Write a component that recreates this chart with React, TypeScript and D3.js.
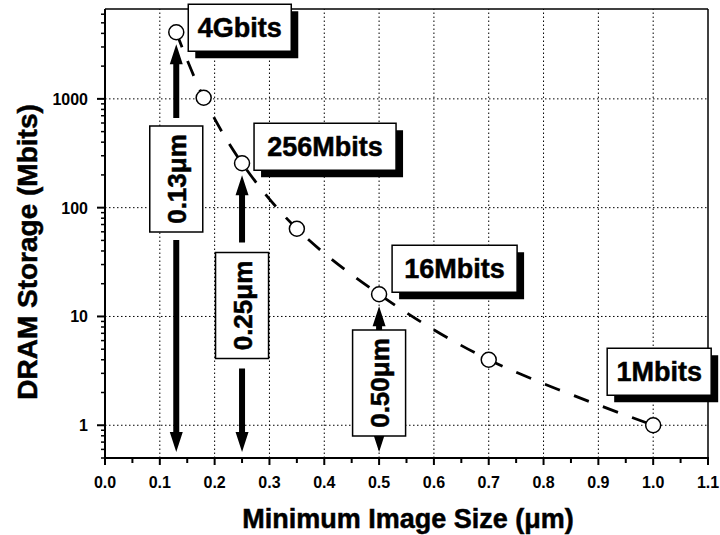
import React from "react";
import * as d3 from "d3";

// Data
const featureSize = [0.13, 0.18, 0.25, 0.35, 0.5, 0.7, 1.0]; // µm
const dramStorage = [4096, 1024, 256, 64, 16, 4, 1]; // Mbits
const xTickValues = [0, 0.1, 0.2, 0.3, 0.4, 0.5, 0.6, 0.7, 0.8, 0.9, 1.0, 1.1];
const yTickValues = [1, 10, 100, 1000];
const generationLabels = ["4Gbits", "256Mbits", "16Mbits", "1Mbits"];
const generationPoint = [0, 2, 4, 6];
const nodeLabels = ["0.13\u03bcm", "0.25\u03bcm", "0.50\u03bcm"];
const nodePoint = [0, 2, 4];

const W = 720;
const H = 535;
const FONT = "'Liberation Sans', Arial, Helvetica, sans-serif";

export default function App() {
  const x = d3.scaleLinear().domain([0, 1.1]).range([105, 708]);
  const y = d3.scaleLog().domain([0.5, 6700]).range([458, 9]);
  const left = 105, right = 708, top = 9, bottom = 458;

  const pts = featureSize.map((s, i) => [x(s), y(dramStorage[i])] as [number, number]);
  const line = d3.line().curve(d3.curveCatmullRom.alpha(0.5))(pts) || "";

  // minor ticks
  const xMinor = d3.range(0.05, 1.1, 0.1);
  const yMinor: number[] = [];
  [0.1, 1, 10, 100, 1000].forEach((dec) => {
    for (let k = 2; k <= 9; k++) {
      const v = dec * k;
      if (v >= 0.5 && v <= 6700) yMinor.push(v);
    }
  });

  // layout for annotation boxes (pixel offsets relative to data point)
  const genLayout = [
    { dx: 12, dy: -28, w: 103 },
    { dx: 12, dy: -40, w: 142 },
    { dx: 13, dy: -49, w: 125 },
    { dx: -46, dy: -77, w: 104 },
  ];
  const boxH = 47;
  const shadow = 7;
  const nodeLayout = [
    { cy: 179, gap: 8 },
    { cy: 305.5, gap: 10 },
    { cy: 383, gap: 0 },
  ];
  const nodeW = 53, nodeH = 106;
  const heavy = { stroke: "#000", strokeWidth: 0.5 };

  const arrow = (xc: number, from: number, tip: number, key: string) => {
    const dir = tip < from ? -1 : 1;
    const headL = 20, headW = 13, shaftW = 6;
    const baseY = tip - dir * headL;
    const d = `M${xc - shaftW / 2},${from} L${xc - shaftW / 2},${baseY} L${xc - headW / 2},${baseY} L${xc},${tip} L${xc + headW / 2},${baseY} L${xc + shaftW / 2},${baseY} L${xc + shaftW / 2},${from} Z`;
    return <path key={key} d={d} fill="#000" />;
  };

  return (
    <svg width={W} height={H} style={{ position: "absolute", left: 0, top: 0, background: "#fff" }} fontFamily={FONT}>
      <rect x={0} y={0} width={W} height={H} fill="#fff" />
      {/* grid */}
      {xTickValues.filter((v) => v > 0.05 && v < 1.05).map((v) => (
        <line key={"gx" + v} x1={x(v)} x2={x(v)} y1={bottom} y2={top} stroke="#000" strokeWidth={1} strokeDasharray="1.5,2.5" />
      ))}
      {yTickValues.map((v) => (
        <line key={"gy" + v} x1={left} x2={right} y1={y(v)} y2={y(v)} stroke="#000" strokeWidth={1} strokeDasharray="1.5,2.5" />
      ))}

      {/* frame */}
      <line x1={left} x2={right} y1={top} y2={top} stroke="#000" strokeWidth={1.5} />
      <line x1={right} x2={right} y1={top} y2={bottom} stroke="#000" strokeWidth={1.5} />
      <line x1={left} x2={left} y1={top} y2={bottom + 1} stroke="#000" strokeWidth={2} />
      <line x1={left - 1} x2={right + 1} y1={bottom} y2={bottom} stroke="#000" strokeWidth={2} />

      {/* x ticks */}
      {xTickValues.map((v) => (
        <line key={"xt" + v} x1={x(v)} x2={x(v)} y1={bottom} y2={bottom + 7} stroke="#000" strokeWidth={2} />
      ))}
      {xMinor.map((v) => (
        <line key={"xm" + v} x1={x(v)} x2={x(v)} y1={bottom} y2={bottom + 5} stroke="#000" strokeWidth={2} />
      ))}
      {xTickValues.map((v) => (
        <text key={"xl" + v} x={x(v)} y={488} textAnchor="middle" fontSize={16} fontWeight="bold">
          {v.toFixed(1)}
        </text>
      ))}

      {/* y ticks */}
      {yTickValues.map((v) => (
        <line key={"yt" + v} x1={left - 8} x2={left} y1={y(v)} y2={y(v)} stroke="#000" strokeWidth={2} />
      ))}
      {yMinor.map((v) => (
        <line key={"ym" + v} x1={left - 4} x2={left} y1={y(v)} y2={y(v)} stroke="#000" strokeWidth={1.5} />
      ))}
      {yTickValues.map((v) => (
        <text key={"yl" + v} x={88} y={y(v) + 6} textAnchor="end" fontSize={16} fontWeight="bold">
          {String(v)}
        </text>
      ))}

      {/* axis titles */}
      <text x={408} y={528} textAnchor="middle" fontSize={27} fontWeight="bold" {...heavy}>
        Minimum Image Size (<tspan>{"\u03bc"}</tspan>m)
      </text>
      <text transform={`translate(37,252) rotate(-90)`} textAnchor="middle" fontSize={28} fontWeight="bold" {...heavy}>
        DRAM Storage (Mbits)
      </text>

      {/* dashed curve */}
      <path d={line} fill="none" stroke="#000" strokeWidth={2.8} strokeDasharray="16,15" />

      {/* node arrows and boxes */}
      {nodeLabels.map((lab, i) => {
        const [px, py] = pts[nodePoint[i]];
        const L = nodeLayout[i];
        const bt = L.cy - nodeH / 2, bb = L.cy + nodeH / 2;
        return (
          <g key={"node" + i}>
            {arrow(px, bt - L.gap, py + 12, "up" + i)}
            {arrow(px, bb + L.gap, y(0.5) - 6, "dn" + i)}
            <rect x={px - nodeW / 2} y={bt} width={nodeW} height={nodeH} fill="#fff" stroke="#000" strokeWidth={1.5} />
            <text transform={`translate(${px + 9.5},${L.cy}) rotate(-90)`} textAnchor="middle" fontSize={26} fontWeight="bold" {...heavy}>
              {lab}
            </text>
          </g>
        );
      })}

      {/* data points */}
      {pts.map(([px, py], i) => (
        <circle key={"pt" + i} cx={px} cy={py} r={7.5} fill="#fff" stroke="#000" strokeWidth={1.5} />
      ))}

      {/* generation label boxes */}
      {generationLabels.map((lab, i) => {
        const [px, py] = pts[generationPoint[i]];
        const L = genLayout[i];
        const bx = px + L.dx, by = py + L.dy;
        return (
          <g key={"gen" + i}>
            <rect x={bx + shadow} y={by + shadow} width={L.w} height={boxH} fill="#000" />
            <rect x={bx} y={by} width={L.w} height={boxH} fill="#fff" stroke="#000" strokeWidth={1.5} />
            <text x={bx + L.w / 2} y={by + boxH / 2 + 9.5} textAnchor="middle" fontSize={27} fontWeight="bold" {...heavy}>
              {lab}
            </text>
          </g>
        );
      })}
    </svg>
  );
}
